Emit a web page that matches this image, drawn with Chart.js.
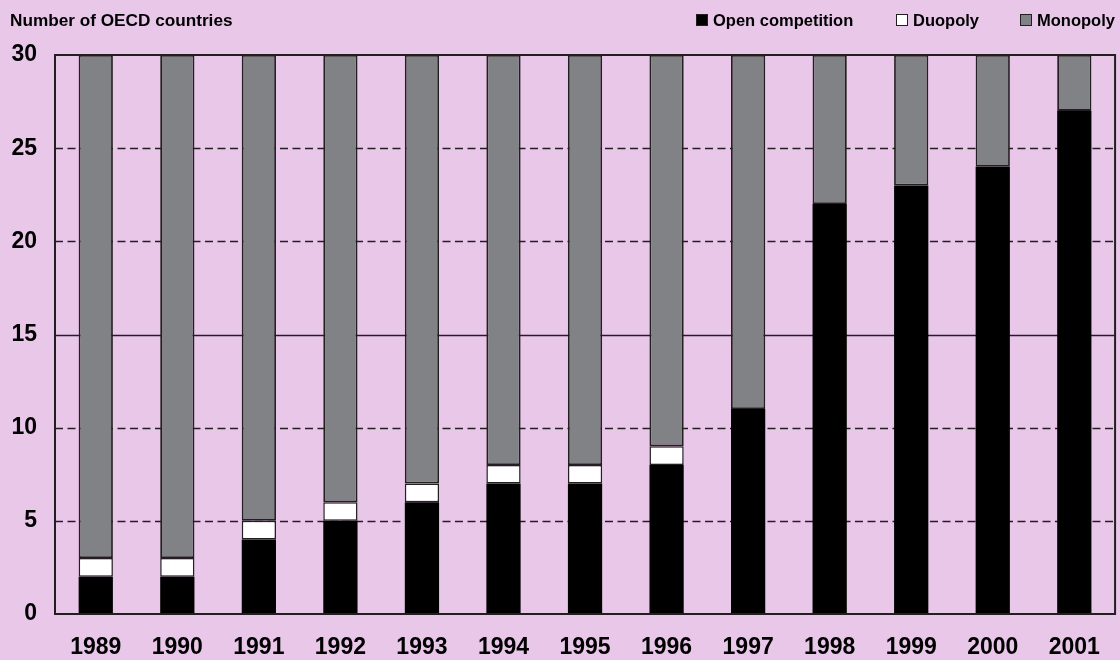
<!DOCTYPE html>
<html>
<head>
<meta charset="utf-8">
<script src="https://cdn.jsdelivr.net/npm/chart.js@4.4.1/dist/chart.umd.min.js"></script>
<style>
  html, body { margin: 0; padding: 0; background: #E8C7E8; }
  #wrap { width: 1120px; height: 660px; }
</style>
</head>
<body>
<div id="wrap"><canvas id="chart" width="1120" height="660"></canvas></div>
<script>
// Data
const years = ["1989", "1990", "1991", "1992", "1993", "1994", "1995", "1996", "1997", "1998", "1999", "2000", "2001"];
const openCompetition = [2, 2, 4, 5, 6, 7, 7, 8, 11, 22, 23, 24, 27];
const duopoly = [1, 1, 1, 1, 1, 1, 1, 1, 0, 0, 0, 0, 0];
const monopoly = [27, 27, 25, 24, 23, 22, 22, 21, 19, 8, 7, 6, 3];
const yTicks = [0, 5, 10, 15, 20, 25, 30];

const BG = "#E8C7E8";
const LINE = "#231f20";
const FONT = "'Liberation Sans', Arial, sans-serif";

// background, grid lines, box, axis title and legend
const decor = {
    id: "decor",
    beforeDraw(chart) {
        const c = chart.ctx;
        c.save();
        c.fillStyle = BG;
        c.fillRect(0, 0, chart.width, chart.height);
        c.restore();
    },
    beforeDatasetsDraw(chart) {
        const c = chart.ctx, a = chart.chartArea, y = chart.scales.y;
        c.save();
        c.strokeStyle = LINE;
        c.lineWidth = 1.5;
        yTicks.forEach(v => {
            if (v === 0 || v === 30) return;
            const py = Math.round(y.getPixelForValue(v)) + 0.5;
            c.setLineDash(v === 15 ? [] : [8, 4.5]);
            c.beginPath();
            c.moveTo(a.left, py);
            c.lineTo(a.right, py);
            c.stroke();
        });
        c.restore();
    },
    afterDatasetsDraw(chart) {
        const c = chart.ctx, a = chart.chartArea;
        c.save();
        c.strokeStyle = LINE;
        c.lineWidth = 2;
        c.strokeRect(a.left, a.top, a.right - a.left, a.bottom - a.top);

        c.fillStyle = "#000";
        c.textBaseline = "middle";
        c.font = "bold 17.2px " + FONT;
        c.fillText("Number of OECD countries", 10, 21);

        // legend
        c.font = "bold 16.5px " + FONT;
        const legendX = [696, 896, 1020];
        chart.data.datasets.forEach((ds, i) => {
            const x = legendX[i];
            c.fillStyle = ds.backgroundColor;
            c.fillRect(x, 14, 12, 12);
            c.lineWidth = 1;
            c.strokeStyle = LINE;
            c.strokeRect(x + 0.5, 14.5, 11, 11);
            c.fillStyle = "#000";
            c.fillText(ds.label, x + 17, 21);
        });
        c.restore();
    }
};

new Chart(document.getElementById("chart"), {
    type: "bar",
    data: {
        labels: years,
        datasets: [
            { label: "Open competition", data: openCompetition, backgroundColor: "#000000", borderWidth: 0 },
            {
                label: "Duopoly", data: duopoly, backgroundColor: "#ffffff",
                borderColor: LINE, borderWidth: ctx => ctx.raw ? 1.5 : 0, borderSkipped: false
            },
            {
                label: "Monopoly", data: monopoly, backgroundColor: "#818285",
                borderColor: LINE, borderWidth: 1.8, borderSkipped: false
            }
        ]
    },
    options: {
        responsive: false,
        animation: false,
        layout: { padding: { top: 55, right: 3, left: 0, bottom: 0 } },
        datasets: { bar: { categoryPercentage: 1, barPercentage: 0.42 } },
        plugins: { legend: { display: false }, tooltip: { enabled: false } },
        scales: {
            x: {
                stacked: true,
                grid: { display: false, drawTicks: false },
                border: { display: false },
                ticks: { color: "#000", font: { family: FONT, size: 23, weight: "bold" }, padding: 20, maxRotation: 0 },
                afterFit(s) { s.height = 46; }
            },
            y: {
                stacked: true,
                min: 0, max: 30,
                afterBuildTicks(s) { s.ticks = yTicks.map(v => ({ value: v })); },
                grid: { display: false, drawTicks: false },
                border: { display: false },
                ticks: { color: "#000", font: { family: FONT, size: 23, weight: "bold" }, padding: 18 },
                afterFit(s) { s.width = 55; }
            }
        }
    },
    plugins: [decor]
});
</script>
</body>
</html>
